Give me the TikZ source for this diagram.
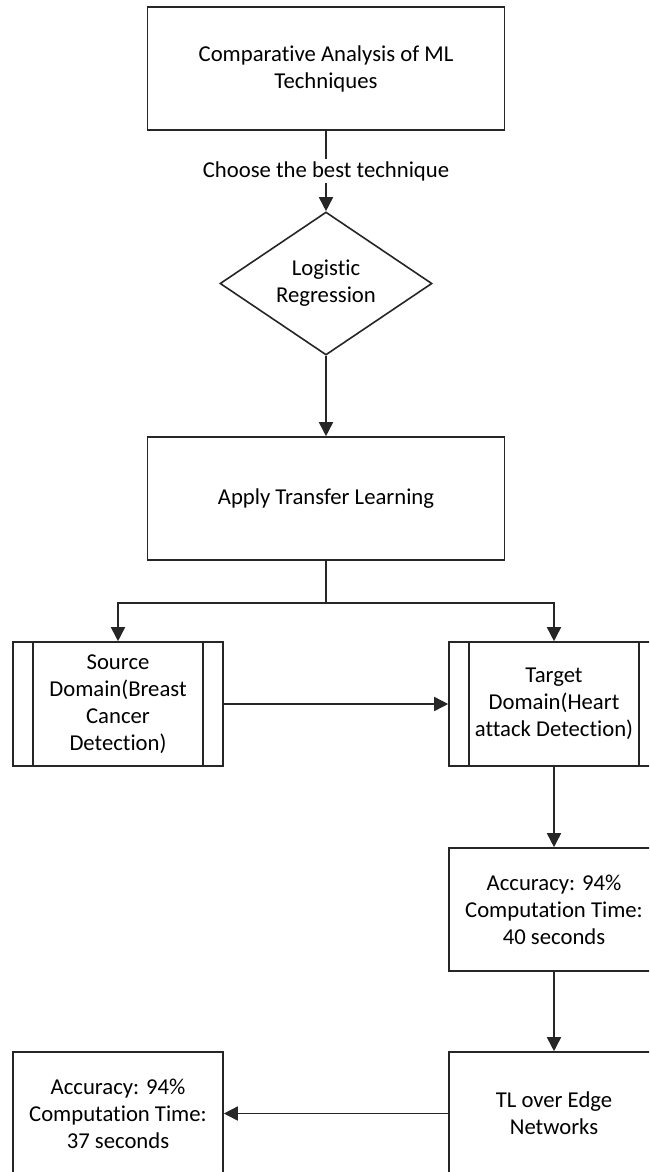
\documentclass[tikz,border=0pt]{standalone}
\usepackage{fontspec}
\setmainfont{Carlito}[RawFeature={-liga;-clig;-calt;-dlig}]
\usetikzlibrary{shapes.geometric,arrows.meta,calc}

\tikzset{
  flowline/.style={line width=1.6pt, draw=black!85},
  flowarrow/.style={flowline, -{Triangle[width=14pt,length=14pt]}},
  procbox/.style={draw=black!85, line width=1.6pt, fill=white, rectangle,
    align=center, inner sep=0pt, font=\fontsize{22.7}{27}\selectfont},
  wideproc/.style={procbox, minimum width=357pt, minimum height=123pt},
  sideproc/.style={procbox, minimum width=210pt, minimum height=124pt},
  decisionbox/.style={draw=black!85, line width=1.6pt, fill=white, diamond,
    aspect=1.48, inner sep=0pt, minimum width=212pt, minimum height=143pt,
    align=center, font=\fontsize{22.7}{27}\selectfont},
  edgelabel/.style={fill=white, inner sep=2pt, font=\fontsize{22.7}{27}\selectfont}
}

\begin{document}
\begin{tikzpicture}[x=1pt, y=-1pt]
  \useasboundingbox (0,0) rectangle (649,1172);
  \clip (0,0) rectangle (649,1172);

  % main column
  \node[wideproc] (compare) at (326,68.5) {Comparative Analysis of ML\\Techniques};
  \node[decisionbox] (logreg) at (326,283.5) {Logistic\\Regression};
  \node[wideproc] (apply) at (326,498.5) {Apply Transfer Learning};

  % source and target domains (predefined-process boxes)
  \node[sideproc] (source) at (118,704) {Source\\Domain(Breast\\Cancer\\Detection)};
  \node[sideproc] (target) at (554,704) {Target\\Domain(Heart\\attack Detection)};
  \foreach \n in {source,target}{
    \draw[flowline] ([xshift=21pt]\n.north west) -- ([xshift=21pt]\n.south west);
    \draw[flowline] ([xshift=-21pt]\n.north east) -- ([xshift=-21pt]\n.south east);
  }

  % results
  \node[sideproc, minimum height=123pt] (acc40) at (554,909.5) {Accuracy: 94\%\\Computation Time:\\40 seconds};
  \node[sideproc, minimum height=123pt] (edge) at (554,1113.5) {TL over Edge\\Networks};
  \node[sideproc, minimum height=123pt] (acc37) at (118,1113.5) {Accuracy: 94\%\\Computation Time:\\37 seconds};

  % connectors
  \draw[flowarrow] (compare.south) -- node[edgelabel] {Choose the best technique} (logreg.north);
  \draw[flowarrow] (logreg.south) -- (apply.north);
  \coordinate (split) at ($(apply.south)+(0,42)$);
  \draw[flowline] (apply.south) -- (split);
  \draw[flowarrow] (split) -| (source.north);
  \draw[flowarrow] (split) -| (target.north);
  \draw[flowarrow] (source.east) -- (target.west);
  \draw[flowarrow] (target.south) -- (acc40.north);
  \draw[flowarrow] (acc40.south) -- (edge.north);
  \draw[flowarrow] (edge.west) -- (acc37.east);
\end{tikzpicture}
\end{document}
